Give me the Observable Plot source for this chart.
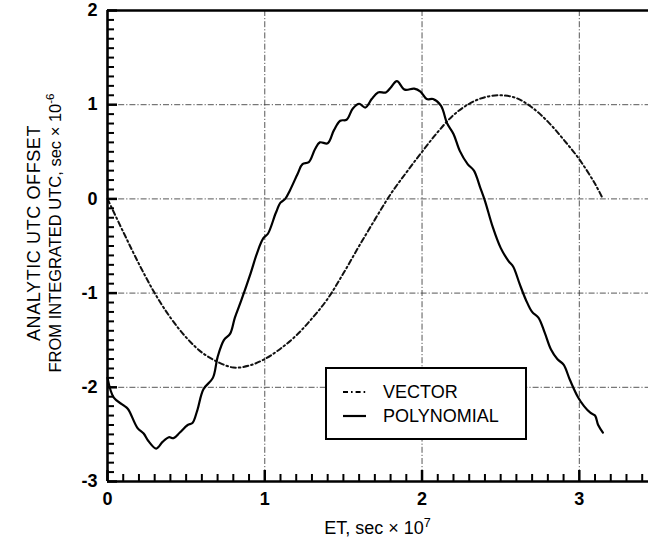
<!DOCTYPE html>
<html><head><meta charset="utf-8">
<script src="https://cdn.jsdelivr.net/npm/d3@7"></script>
<script src="https://cdn.jsdelivr.net/npm/@observablehq/plot@0.6"></script>
<style>body{margin:0;background:#fff}</style>
</head><body><div id="chart"></div>
<script>
// ---- data ----
const vectorX = [0, 0.1, 0.2, 0.3, 0.4, 0.5, 0.6, 0.7, 0.8, 0.9, 1.0, 1.1, 1.2, 1.3, 1.4, 1.5, 1.6, 1.7, 1.8, 1.9, 2.0, 2.1, 2.2, 2.3, 2.4, 2.5, 2.6, 2.7, 2.8, 2.9, 3.0, 3.1, 3.15];
const vectorY = [0, -0.35, -0.69, -1.0, -1.26, -1.47, -1.63, -1.73, -1.79, -1.77, -1.70, -1.59, -1.45, -1.27, -1.06, -0.79, -0.50, -0.22, 0.05, 0.28, 0.50, 0.71, 0.89, 1.01, 1.08, 1.10, 1.07, 0.97, 0.82, 0.63, 0.42, 0.16, 0.0];
const polyX = [0, 0.04, 0.10, 0.13, 0.19, 0.23, 0.26, 0.31, 0.35, 0.39, 0.42, 0.46, 0.51, 0.54, 0.57, 0.61, 0.67, 0.70, 0.74, 0.78, 0.81, 0.85, 0.91, 0.95, 0.99, 1.02, 1.07, 1.10, 1.13, 1.16, 1.21, 1.24, 1.28, 1.32, 1.35, 1.40, 1.44, 1.48, 1.52, 1.56, 1.60, 1.64, 1.68, 1.72, 1.77, 1.80, 1.84, 1.89, 1.95, 1.99, 2.03, 2.07, 2.12, 2.16, 2.20, 2.24, 2.29, 2.33, 2.37, 2.40, 2.45, 2.50, 2.55, 2.58, 2.62, 2.66, 2.70, 2.74, 2.78, 2.82, 2.86, 2.90, 2.94, 2.99, 3.03, 3.07, 3.10, 3.12, 3.15];
const polyY = [-1.90, -2.11, -2.19, -2.23, -2.43, -2.49, -2.57, -2.65, -2.58, -2.53, -2.54, -2.48, -2.40, -2.38, -2.25, -2.02, -1.90, -1.68, -1.50, -1.43, -1.26, -1.08, -0.79, -0.58, -0.42, -0.37, -0.15, -0.04, 0.0, 0.09, 0.27, 0.37, 0.39, 0.53, 0.60, 0.59, 0.73, 0.83, 0.84, 0.96, 1.01, 0.97, 1.06, 1.13, 1.13, 1.18, 1.25, 1.16, 1.17, 1.14, 1.06, 1.06, 0.99, 0.80, 0.69, 0.51, 0.37, 0.30, 0.12, -0.02, -0.30, -0.52, -0.66, -0.72, -0.90, -1.07, -1.20, -1.26, -1.42, -1.60, -1.70, -1.76, -1.92, -2.10, -2.20, -2.27, -2.30, -2.40, -2.48];
const xTicks = [0, 1, 2, 3];
const yTicks = [-3, -2, -1, 0, 1, 2];
const xGrid = [1, 2, 3];
const yGrid = [-2, -1, 0, 1];
const xDomain = [0, 3.44];
const yDomain = [-3, 2];
const seriesNames = ["VECTOR", "POLYNOMIAL"];
const xLabelText = "ET, sec × 10", xLabelExp = "7";
const yLabelLine1 = "ANALYTIC UTC OFFSET";
const yLabelLine2 = "FROM INTEGRATED UTC, sec × 10", yLabelExp = "-6";

// ---- layout ----
const W = 648, H = 543, mL = 107, mR = 0, mT = 10, mB = 62;
const frameW = W - mL - mR, frameH = H - mT - mB;
const FONT = "'Liberation Sans', Arial, Helvetica, sans-serif";
const VEC_DASH = "5,3,1.6,3";

const vector = vectorX.map((x, i) => ({x, y: vectorY[i]}));
const poly = polyX.map((x, i) => ({x, y: polyY[i]}));
const isMajor = v => Math.abs(v - Math.round(v)) < 1e-6;
const minorX = d3.range(1, 35).map(i => i / 10).filter(v => !isMajor(v));
const minorY = d3.range(-29, 20).map(i => i / 10).filter(v => !isMajor(v));
const gridStyle = {stroke: "#444", strokeWidth: 0.9, strokeDasharray: "6,2,1.2,2"};
const pxX = (xDomain[1] - xDomain[0]) / frameW, pxY = (yDomain[1] - yDomain[0]) / frameH;
const xTickRule = (vals, len, sw) => Plot.ruleX(vals, {x: d => d, y1: yDomain[0], y2: yDomain[0] + len * pxY, strokeWidth: sw, stroke: "black"});
const yTickRule = (vals, len, sw) => Plot.ruleY(vals, {y: d => d, x1: xDomain[0], x2: xDomain[0] + len * pxX, strokeWidth: sw, stroke: "black"});

const chart = Plot.plot({
  width: W, height: H,
  marginLeft: mL, marginRight: mR, marginTop: mT, marginBottom: mB,
  style: {fontFamily: FONT, background: "white", color: "black"},
  x: {domain: xDomain},
  y: {domain: yDomain},
  marks: [
    Plot.ruleY(yGrid, gridStyle),
    Plot.ruleX(xGrid, gridStyle),
    Plot.line(vector, {x: "x", y: "y", curve: "catmull-rom", stroke: "#111", strokeWidth: 2, strokeDasharray: VEC_DASH}),
    Plot.line(poly, {x: "x", y: "y", curve: "catmull-rom", stroke: "#000", strokeWidth: 2.2}),
    xTickRule(minorX, 7, 2),
    xTickRule(xTicks, 11, 2.5),
    yTickRule(minorY, 7, 2),
    yTickRule(yTicks, 10, 2.5),
    Plot.ruleX([xDomain[0]], {strokeWidth: 2.6}),
    Plot.ruleY([yDomain[0]], {strokeWidth: 2.6}),
    Plot.ruleY([yDomain[1]], {strokeWidth: 2.6}),
    Plot.axisX(xTicks, {tickSize: 0, tickPadding: 11, fontSize: 18, fontWeight: "bold", label: null, tickFormat: d => String(d)}),
    Plot.axisY(yTicks, {tickSize: 0, tickPadding: 10, fontSize: 18, fontWeight: "bold", label: null, tickFormat: d => String(d)})
  ]
});
document.getElementById("chart").appendChild(chart);
const svg = d3.select(chart);

function labelWithExp(g, base, exp, size) {
  const t = g.append("text").attr("text-anchor", "middle").attr("font-family", FONT).attr("font-size", size).attr("fill", "black");
  t.append("tspan").text(base);
  t.append("tspan").attr("font-size", size * 0.7).attr("dy", -7).text(exp);
  return t;
}
const xl = svg.append("g").attr("transform", `translate(${mL + frameW / 2},${H - 9})`);
labelWithExp(xl, xLabelText, xLabelExp, 18);

const yMid = 233;
svg.append("text").attr("transform", `translate(40,${yMid}) rotate(-90)`)
  .attr("text-anchor", "middle").attr("font-family", FONT).attr("font-size", 18)
  .attr("letter-spacing", 0.6).text(yLabelLine1);
const yl2 = svg.append("g").attr("transform", `translate(61,${yMid}) rotate(-90)`);
labelWithExp(yl2, yLabelLine2, yLabelExp, 16.5);

const lg = svg.append("g");
lg.append("rect").attr("x", 326).attr("y", 368).attr("width", 200).attr("height", 71)
  .attr("fill", "white").attr("stroke", "black").attr("stroke-width", 2);
const dashes = [VEC_DASH, null];
const widths = [1.8, 2.2];
seriesNames.forEach((name, i) => {
  const yy = 392 + i * 24;
  lg.append("line").attr("x1", 343).attr("x2", 366).attr("y1", yy).attr("y2", yy)
    .attr("stroke", "black").attr("stroke-width", widths[i]).attr("stroke-dasharray", dashes[i]);
  lg.append("text").attr("x", 383).attr("y", yy).attr("dy", "0.35em").attr("text-anchor", "start")
    .attr("font-family", FONT).attr("font-size", 18).text(name);
});
</script>
</body></html>
